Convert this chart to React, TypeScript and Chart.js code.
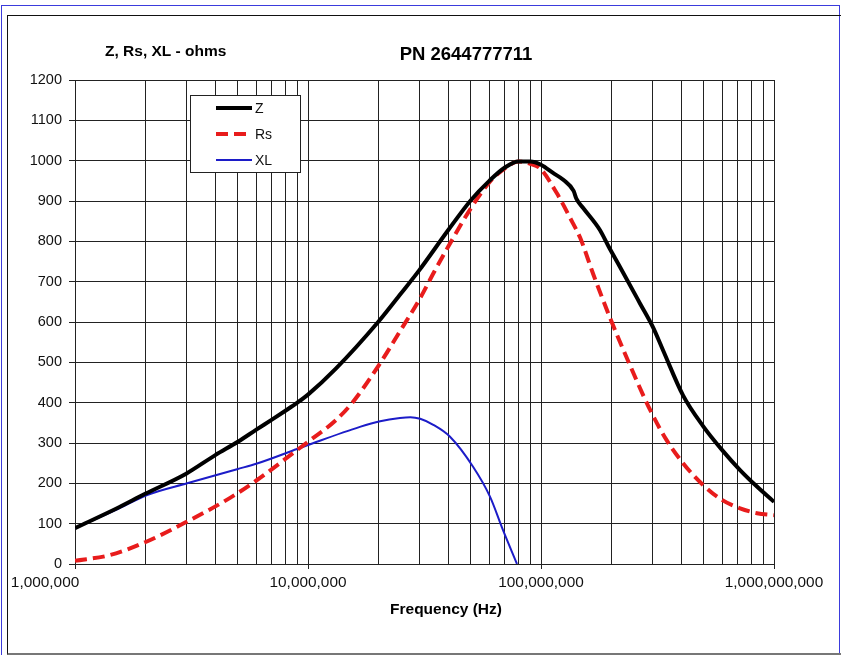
import React, { useEffect, useRef } from 'react';
import { Chart, registerables } from 'chart.js';

Chart.register(...registerables);

const chartTitle = 'PN 2644777711';
const yAxisTitle = 'Z, Rs, XL - ohms';
const xAxisTitle = 'Frequency (Hz)';
const seriesNames = ['Z', 'Rs', 'XL'];

// Frequency (Hz) and impedance (ohms)
const zFreq = [1e6, 1.5e6, 2e6, 3e6, 4e6, 5e6, 6e6, 7e6, 8e6, 9e6, 1e7, 1.32e7, 2e7, 2.5e7, 3e7, 4e7, 5e7, 6e7, 7e7, 8e7, 9e7, 1e8, 1.13e8, 1.25e8, 1.38e8, 1.42e8, 1.52e8, 1.79e8, 1.95e8, 2.18e8, 2.66e8, 3.03e8, 3.34e8, 4.07e8, 4.96e8, 5.98e8, 7.15e8, 8.45e8, 1e9];
const zOhms = [89, 137, 174, 224, 270, 303, 333, 358, 380, 400, 420, 485, 600, 670, 728, 828, 902, 950, 983, 998, 998, 990, 969, 952, 925, 905, 882, 828, 787, 737, 646, 586, 530, 418, 342, 283, 233, 192, 154];

const rsFreq = [1e6, 1.41e6, 2e6, 3e6, 4.63e6, 6e6, 9e6, 1e7, 1.32e7, 1.55e7, 2e7, 2.5e7, 3e7, 3.5e7, 4e7, 5e7, 6e7, 7e7, 8e7, 9e7, 9.9e7, 1.17e8, 1.37e8, 1.47e8, 1.67e8, 1.97e8, 2.4e8, 2.94e8, 3.46e8, 4.07e8, 4.96e8, 5.98e8, 7.15e8, 8.45e8, 1e9];
const rsOhms = [8, 22, 54, 104, 164, 207, 283, 303, 357, 400, 490, 580, 655, 727, 787, 882, 946, 981, 998, 992, 981, 919, 845, 810, 721, 613, 495, 382, 307, 250, 196, 159, 138, 126, 121];

const xlFreq = [1e6, 1.5e6, 2.04e6, 3.03e6, 4.96e6, 6.04e6, 8.97e6, 1e7, 1.67e7, 2.04e7, 2.48e7, 2.75e7, 3.03e7, 3.45e7, 4.06e7, 5.11e7, 6.04e7, 6.87e7, 7.89e7];
const xlOhms = [89, 134, 171, 200, 235, 249, 285, 295, 340, 354, 362, 364, 360, 345, 316, 241, 167, 84, 0];

const xDecades = [1e6, 1e7, 1e8, 1e9];
const xTickLabels = ['1,000,000              ', '10,000,000', '100,000,000', '1,000,000,000'];
const xMultipliers = [1, 2, 3, 4, 5, 6, 7, 8, 9];
const yMin = 0;
const yMax = 1200;
const yStep = 100;

const FONT = "'Liberation Sans', Arial, sans-serif";
const GRID = '#222';

const seriesColors = ['#000000', '#e81c1c', '#1c1cc8'];
const seriesWidths = [4, 4, 2];
const seriesDashes: number[][] = [[], [12, 6], []];

const xGridValues: number[] = [];
for (let d = 0; d < xDecades.length - 1; d++) {
  for (const m of xMultipliers) xGridValues.push(Math.round(xDecades[d] * m));
}
xGridValues.push(xDecades[xDecades.length - 1]);

const toPoints = (xs: number[], ys: number[]) => xs.map((x, i) => ({ x, y: ys[i] }));

const overlayPlugin = {
  id: 'overlay',
  afterDraw(chart: any) {
    const ctx = chart.ctx as CanvasRenderingContext2D;
    ctx.save();
    ctx.fillStyle = '#000';
    ctx.textBaseline = 'middle';
    ctx.font = `bold 15.5px ${FONT}`;
    ctx.textAlign = 'left';
    ctx.fillText(yAxisTitle, 105, 52);
    ctx.font = `bold 18.5px ${FONT}`;
    ctx.textAlign = 'center';
    ctx.fillText(chartTitle, 466, 55);
    ctx.font = `bold 15.5px ${FONT}`;
    ctx.fillText(xAxisTitle, 446, 610);

    // legend box
    const lx = 190.5, ly = 95.5, lw = 110, lh = 77;
    ctx.fillStyle = '#fff';
    ctx.fillRect(lx, ly, lw, lh);
    ctx.strokeStyle = '#222';
    ctx.lineWidth = 1;
    ctx.setLineDash([]);
    ctx.strokeRect(lx, ly, lw, lh);
    chart.data.datasets.forEach((ds: any, i: number) => {
      const y = 108 + i * 26;
      ctx.beginPath();
      ctx.strokeStyle = ds.borderColor;
      ctx.lineWidth = ds.borderWidth;
      ctx.setLineDash(ds.borderDash || []);
      ctx.moveTo(216, y);
      ctx.lineTo(252, y);
      ctx.stroke();
      ctx.setLineDash([]);
      ctx.fillStyle = '#111';
      ctx.font = `14px ${FONT}`;
      ctx.textAlign = 'left';
      ctx.fillText(ds.label, 255, y + 1);
    });
    ctx.restore();
  },
};

export default function App() {
  const ref = useRef<HTMLCanvasElement>(null);

  useEffect(() => {
    document.body.style.margin = '0';
    const series = [toPoints(zFreq, zOhms), toPoints(rsFreq, rsOhms), toPoints(xlFreq, xlOhms)];
    const chart = new Chart(ref.current as HTMLCanvasElement, {
      type: 'line',
      data: {
        datasets: series.map((data, i) => ({
          label: seriesNames[i],
          data,
          borderColor: seriesColors[i],
          backgroundColor: seriesColors[i],
          borderWidth: seriesWidths[i],
          borderDash: seriesDashes[i],
          pointRadius: 0,
          fill: false,
          cubicInterpolationMode: 'monotone' as const,
        })),
      },
      options: {
        responsive: false,
        animation: false,
        events: [],
        layout: { padding: { top: 80, right: 67, bottom: 0, left: 0 } },
        plugins: {
          legend: { display: false },
          tooltip: { enabled: false },
          title: { display: false },
        },
        scales: {
          x: {
            type: 'logarithmic',
            min: xDecades[0],
            max: xDecades[xDecades.length - 1],
            afterBuildTicks: (s: any) => {
              s.ticks = xGridValues.map((v) => ({ value: v }));
            },
            afterFit: (s: any) => {
              s.height = 91;
            },
            grid: {
              color: GRID,
              lineWidth: 1,
              tickLength: 5,
              tickColor: (c: any) => (c.tick && xDecades.includes(c.tick.value) ? GRID : 'rgba(0,0,0,0)'),
            },
            border: { color: GRID, width: 1 },
            ticks: {
              autoSkip: false,
              maxRotation: 0,
              minRotation: 0,
              padding: 5,
              color: '#111',
              font: { family: FONT, size: 15.4 },
              callback: (v: any) => {
                const i = xDecades.indexOf(Number(v));
                return i >= 0 ? xTickLabels[i] : '';
              },
            },
          },
          y: {
            type: 'linear',
            min: yMin,
            max: yMax,
            afterFit: (s: any) => {
              s.width = 75;
            },
            grid: { color: GRID, lineWidth: 1, tickLength: 6 },
            border: { color: GRID, width: 1 },
            ticks: {
              stepSize: yStep,
              padding: 7,
              color: '#111',
              font: { family: FONT, size: 14.5 },
              callback: (v: any) => String(v),
            },
          },
        },
      },
      plugins: [overlayPlugin],
    } as any);
    return () => chart.destroy();
  }, []);

  return (
    <div style={{ position: 'absolute', left: 0, top: 0, width: 841, height: 655, overflow: 'hidden', background: '#fff' }}>
      <div
        style={{
          position: 'absolute', left: 1, top: 5, width: 837, height: 660,
          borderTop: '1px solid #3b3bdc', borderLeft: '1px solid #3b3bdc', borderRight: '1px solid #3b3bdc',
        }}
      />
      <div
        style={{
          position: 'absolute', left: 7, top: 15, width: 850, height: 637,
          borderTop: '1px solid #111', borderLeft: '1px solid #111', borderBottom: '2px solid #777',
        }}
      />
      <canvas ref={ref} width={841} height={655} style={{ position: 'absolute', left: 0, top: 0 }} />
    </div>
  );
}
